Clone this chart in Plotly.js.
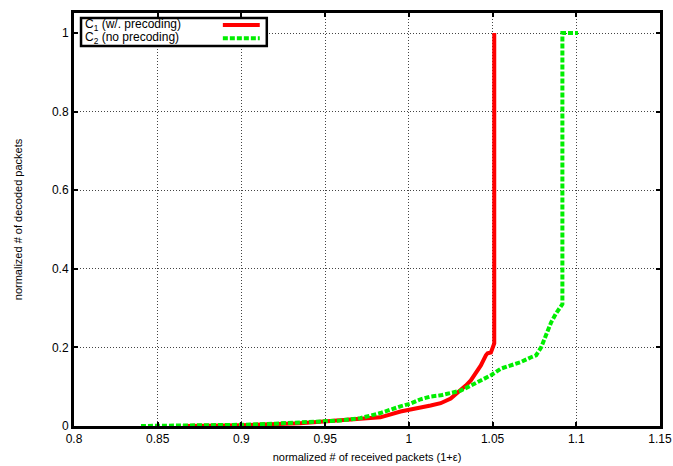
<!DOCTYPE html>
<html>
<head>
<meta charset="utf-8">
<script src="https://cdn.plot.ly/plotly-3.0.1.min.js"></script>
<style>html,body{margin:0;padding:0;background:#fff;}#chart{width:673px;height:466px;}</style>
</head>
<body>
<div id="chart"></div>
<script>
// C1 (with precoding)
const c1X = [0.865, 0.90, 0.935, 0.95, 0.965, 0.983, 0.995, 1.0, 1.007, 1.013, 1.019, 1.025, 1.031, 1.034, 1.037, 1.040, 1.043, 1.046, 1.047, 1.049, 1.0505, 1.051, 1.051];
const c1Y = [0, 0.002, 0.007, 0.011, 0.016, 0.022, 0.037, 0.042, 0.047, 0.052, 0.058, 0.07, 0.09, 0.103, 0.116, 0.134, 0.154, 0.18, 0.185, 0.187, 0.2, 0.21, 1.0];
// C2 (no precoding)
const c2X = [0.84, 0.88, 0.90, 0.92, 0.935, 0.959, 0.971, 0.983, 0.995, 1.001, 1.007, 1.013, 1.019, 1.025, 1.031, 1.037, 1.043, 1.049, 1.055, 1.061, 1.067, 1.073, 1.076, 1.079, 1.082, 1.085, 1.088, 1.091, 1.0917, 1.0917, 1.095, 1.101];
const c2Y = [0, 0.001, 0.003, 0.006, 0.01, 0.014, 0.02, 0.033, 0.05, 0.057, 0.068, 0.075, 0.078, 0.083, 0.09, 0.103, 0.116, 0.129, 0.146, 0.154, 0.163, 0.175, 0.18, 0.2, 0.23, 0.264, 0.287, 0.303, 0.31, 1.0, 1.0, 1.0];

const seriesNames = ["C<sub>1</sub> (w/. precoding)", "C<sub>2</sub> (no precoding)"];
const xTicks = [0.8, 0.85, 0.9, 0.95, 1, 1.05, 1.1, 1.15];
const xTickText = ["0.8", "0.85", "0.9", "0.95", "1", "1.05", "1.1", "1.15"];
const yTicks = [0, 0.2, 0.4, 0.6, 0.8, 1];
const yTickText = ["0", "0.2", "0.4", "0.6", "0.8", "1"];

const RED = "#ff0000", GREEN = "#00ee00";
const font = {family: "Liberation Sans, Arial, sans-serif", size: 12, color: "#000"};

const traces = [
  {x: c1X, y: c1Y, mode: "lines", name: seriesNames[0], line: {color: RED, width: 4}, showlegend: false},
  {x: c2X, y: c2Y, mode: "lines", name: seriesNames[1], line: {color: GREEN, width: 4, dash: "5px,2px"}, showlegend: false}
];

// legend drawn manually (text left, sample right) in paper coords
const lg = {x0: 0.012, x1: 0.329, y0: 0.920, y1: 0.988, sx0: 0.254, sx1: 0.317, r1: 0.971, r2: 0.939};

const gridStyle = {showgrid: true, gridcolor: "#444", griddash: "1px,2px", gridwidth: 1};
const axisStyle = {zeroline: false, showline: true, linecolor: "#000", linewidth: 3, mirror: "allticks",
  ticks: "inside", ticklen: 4, tickwidth: 2, tickcolor: "#000", tickfont: {size: 12}, automargin: false};

const layout = {
  width: 673, height: 466,
  margin: {l: 74, r: 13, t: 13, b: 40},
  paper_bgcolor: "#fff", plot_bgcolor: "#fff",
  font: font,
  xaxis: Object.assign({
    range: [0.8, 1.15], tickvals: xTicks, ticktext: xTickText,
    title: {text: "normalized # of received packets (1+ε)", font: {size: 11}, standoff: 8}
  }, gridStyle, axisStyle),
  yaxis: Object.assign({
    range: [0, 1.051], tickvals: yTicks, ticktext: yTickText,
    title: {text: "normalized # of decoded packets", font: {size: 11}, standoff: 28}
  }, gridStyle, axisStyle),
  shapes: [
    {type: "rect", xref: "paper", yref: "paper", x0: lg.x0, x1: lg.x1, y0: lg.y0, y1: lg.y1,
     line: {color: "#000", width: 2.5}, fillcolor: "#fff", layer: "above"},
    {type: "line", xref: "paper", yref: "paper", x0: lg.sx0, x1: lg.sx1, y0: lg.r1, y1: lg.r1,
     line: {color: RED, width: 4}, layer: "above"},
    {type: "line", xref: "paper", yref: "paper", x0: lg.sx0, x1: lg.sx1, y0: lg.r2, y1: lg.r2,
     line: {color: GREEN, width: 4, dash: "5px,2px"}, layer: "above"}
  ],
  annotations: [
    {xref: "paper", yref: "paper", x: lg.x0 + 0.003, y: lg.r1, xanchor: "left", yanchor: "middle",
     text: seriesNames[0], showarrow: false, font: {size: 12}},
    {xref: "paper", yref: "paper", x: lg.x0 + 0.003, y: lg.r2, xanchor: "left", yanchor: "middle",
     text: seriesNames[1], showarrow: false, font: {size: 12}}
  ]
};

Plotly.newPlot("chart", traces, layout, {displayModeBar: false, staticPlot: true});
</script>
</body>
</html>
